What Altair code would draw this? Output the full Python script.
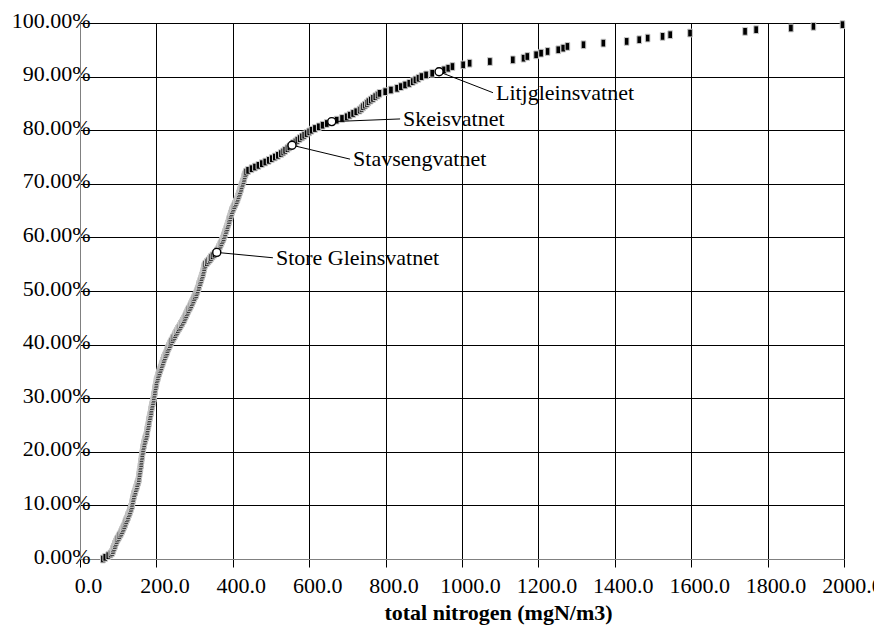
import altair as alt
import pandas as pd

# total nitrogen of each lake (mgN/m3), sorted – cumulative share is computed by Vega-Lite
tn = [
    60, 66, 74, 80,
    84, 86, 87, 89, 91, 92, 94, 96,
    98, 101, 103, 106, 108,
    110, 112, 114, 116, 118, 119, 121,
    123, 125, 126, 128, 130, 131, 133, 134,
    136, 136, 137, 138, 139, 140, 141,
    142, 144, 145, 146, 148, 149, 150, 152, 153,
    154, 154, 155, 156, 156, 157, 158, 158, 159, 160, 160, 161,
    161, 162, 163, 163, 164, 165, 165, 166,
    167, 168, 169, 170, 171, 173, 174, 175,
    176, 176, 177, 178, 179, 180, 180, 181, 182, 183,
    184, 185, 186, 186, 187, 188, 189, 190, 191, 192,
    193, 193, 194, 195, 196, 196, 197, 198, 199, 200, 200,
    201, 203, 204, 205, 207, 208, 210, 211, 213, 214, 216, 217,
    219, 220, 222, 224, 226, 228, 229, 231, 233, 235,
    237, 239, 242, 244, 247, 249, 251,
    254, 256, 259, 262, 264, 267, 269,
    272, 274, 276, 278, 280, 282, 284, 287,
    289, 291, 293, 295, 297, 299, 301, 304,
    305, 307, 308, 310, 311, 312, 314, 315, 317, 318,
    319, 321, 322, 323, 324, 325, 326,
    328, 332, 336, 340, 343,
    347, 352, 358,
    359, 362, 364, 366, 368, 370, 372, 374,
    376, 377, 379, 380, 382, 383,
    385, 386, 387, 389, 390, 391, 393, 394, 395, 397,
    398, 400, 402, 404, 406, 408, 410, 412, 413,
    415, 416, 418, 419, 421, 422, 423, 425, 426, 428,
    429, 430, 431, 433, 435,
    440, 449, 458, 467, 476, 485, 494, 502, 510, 518, 526, 532, 537, 543, 548, 555,
    558, 564, 569, 575,
    581, 587, 593, 600, 606,
    615, 625, 635,
    646, 659,
    672, 686, 698,
    706, 715, 723, 732,
    737, 741, 746, 751, 755,
    761, 767, 773, 779, 784,
    799, 814, 830,
    840, 851, 862,
    871, 878, 886, 894,
    906, 922, 940,
    953, 964,
    975, 1003,
    1020, 1073, 1133, 1161, 1171, 1194, 1207, 1224, 1252, 1265, 1276, 1318,
    1370, 1431, 1464, 1486, 1525, 1545, 1597, 1741, 1770, 1861, 1920, 1996,
]

# highlighted lakes
lake_names = ["Store Gleinsvatnet", "Stavsengvatnet", "Skeisvatnet", "Litjgleinsvatnet"]
lake_tn = [358, 555, 659, 940]
lake_pct = [0.572, 0.772, 0.816, 0.909]
# label anchor (end of leader line), in data units
label_tn = [505, 707, 838, 1081]
label_pct = [0.562, 0.746, 0.821, 0.870]

x_ticks = [0, 200, 400, 600, 800, 1000, 1200, 1400, 1600, 1800, 2000]
y_ticks = [0, 0.1, 0.2, 0.3, 0.4, 0.5, 0.6, 0.7, 0.8, 0.9, 1.0]

FONT = "Liberation Serif"

pts = pd.DataFrame({"tn": tn})
lakes = pd.DataFrame({
    "name": lake_names, "tn": lake_tn, "pct": lake_pct,
    "ltn": label_tn, "lpct": label_pct,
})

xscale = alt.Scale(domain=[0, 2000], nice=False, zero=False)
yscale = alt.Scale(domain=[0, 1], nice=False)

xaxis = alt.Axis(
    values=x_ticks, format=".1f", grid=True, gridColor="black", gridWidth=1,
    tickSize=8, tickColor="black", domainColor="#808080", labelPadding=8,
    labelOffset=8, labelFlush=False, labelOverlap=False,
    labelFont=FONT, labelFontSize=22, labelColor="black",
    title="total nitrogen (mgN/m3)", titleX=418, titleY=60,
    titleBaseline="alphabetic", titleAlign="center", titleFontWeight="bold",
    titleFont=FONT, titleFontSize=22, titleColor="black",
)
yaxis = alt.Axis(
    values=y_ticks, format=".2%", grid=True, gridColor="black", gridWidth=1,
    ticks=False, tickSize=0, labelPadding=-10, labelOffset=-3,
    labelFont=FONT, labelFontSize=22, labelColor="black",
    domainColor="#808080", labelFlush=False, labelOverlap=False, title=None,
)

rect_path = "M-0.6,-1L0.6,-1L0.6,1L-0.6,1Z"

squares = alt.Chart(pts).transform_window(
    rank="row_number()", sort=[alt.SortField("tn")]
).transform_joinaggregate(
    n="count()"
).transform_calculate(
    pct="(datum.rank - 1) / datum.n"
).mark_point(
    shape=rect_path, filled=True, color="black", stroke="#cccccc",
    strokeWidth=1, size=60, opacity=1,
).encode(
    x=alt.X("tn:Q", scale=xscale, axis=xaxis),
    y=alt.Y("pct:Q", scale=yscale, axis=yaxis),
)

leaders = alt.Chart(lakes).mark_rule(color="black", strokeWidth=1).encode(
    x=alt.X("tn:Q", scale=xscale, axis=xaxis),
    y=alt.Y("pct:Q", scale=yscale, axis=yaxis),
    x2="ltn:Q", y2="lpct:Q",
)

circles = alt.Chart(lakes).mark_point(
    shape="circle", filled=True, color="white", stroke="black",
    strokeWidth=1.4, size=64, opacity=1,
).encode(
    x=alt.X("tn:Q", scale=xscale, axis=xaxis),
    y=alt.Y("pct:Q", scale=yscale, axis=yaxis),
)

labels = alt.Chart(lakes).mark_text(
    align="left", baseline="middle", dx=3, font=FONT, fontSize=22, color="black",
).encode(
    x=alt.X("ltn:Q", scale=xscale, axis=xaxis),
    y=alt.Y("lpct:Q", scale=yscale, axis=yaxis),
    text="name:N",
)

chart = alt.layer(squares, leaders, circles, labels).properties(
    width=764, height=536, autosize="none",
    padding={"left": 72, "top": 15, "right": 30, "bottom": 68},
).configure(
    background="white", font=FONT,
).configure_view(
    stroke="#808080", strokeWidth=1,
)

chart.save("out.html", embed_options={"renderer": "svg", "actions": False})
